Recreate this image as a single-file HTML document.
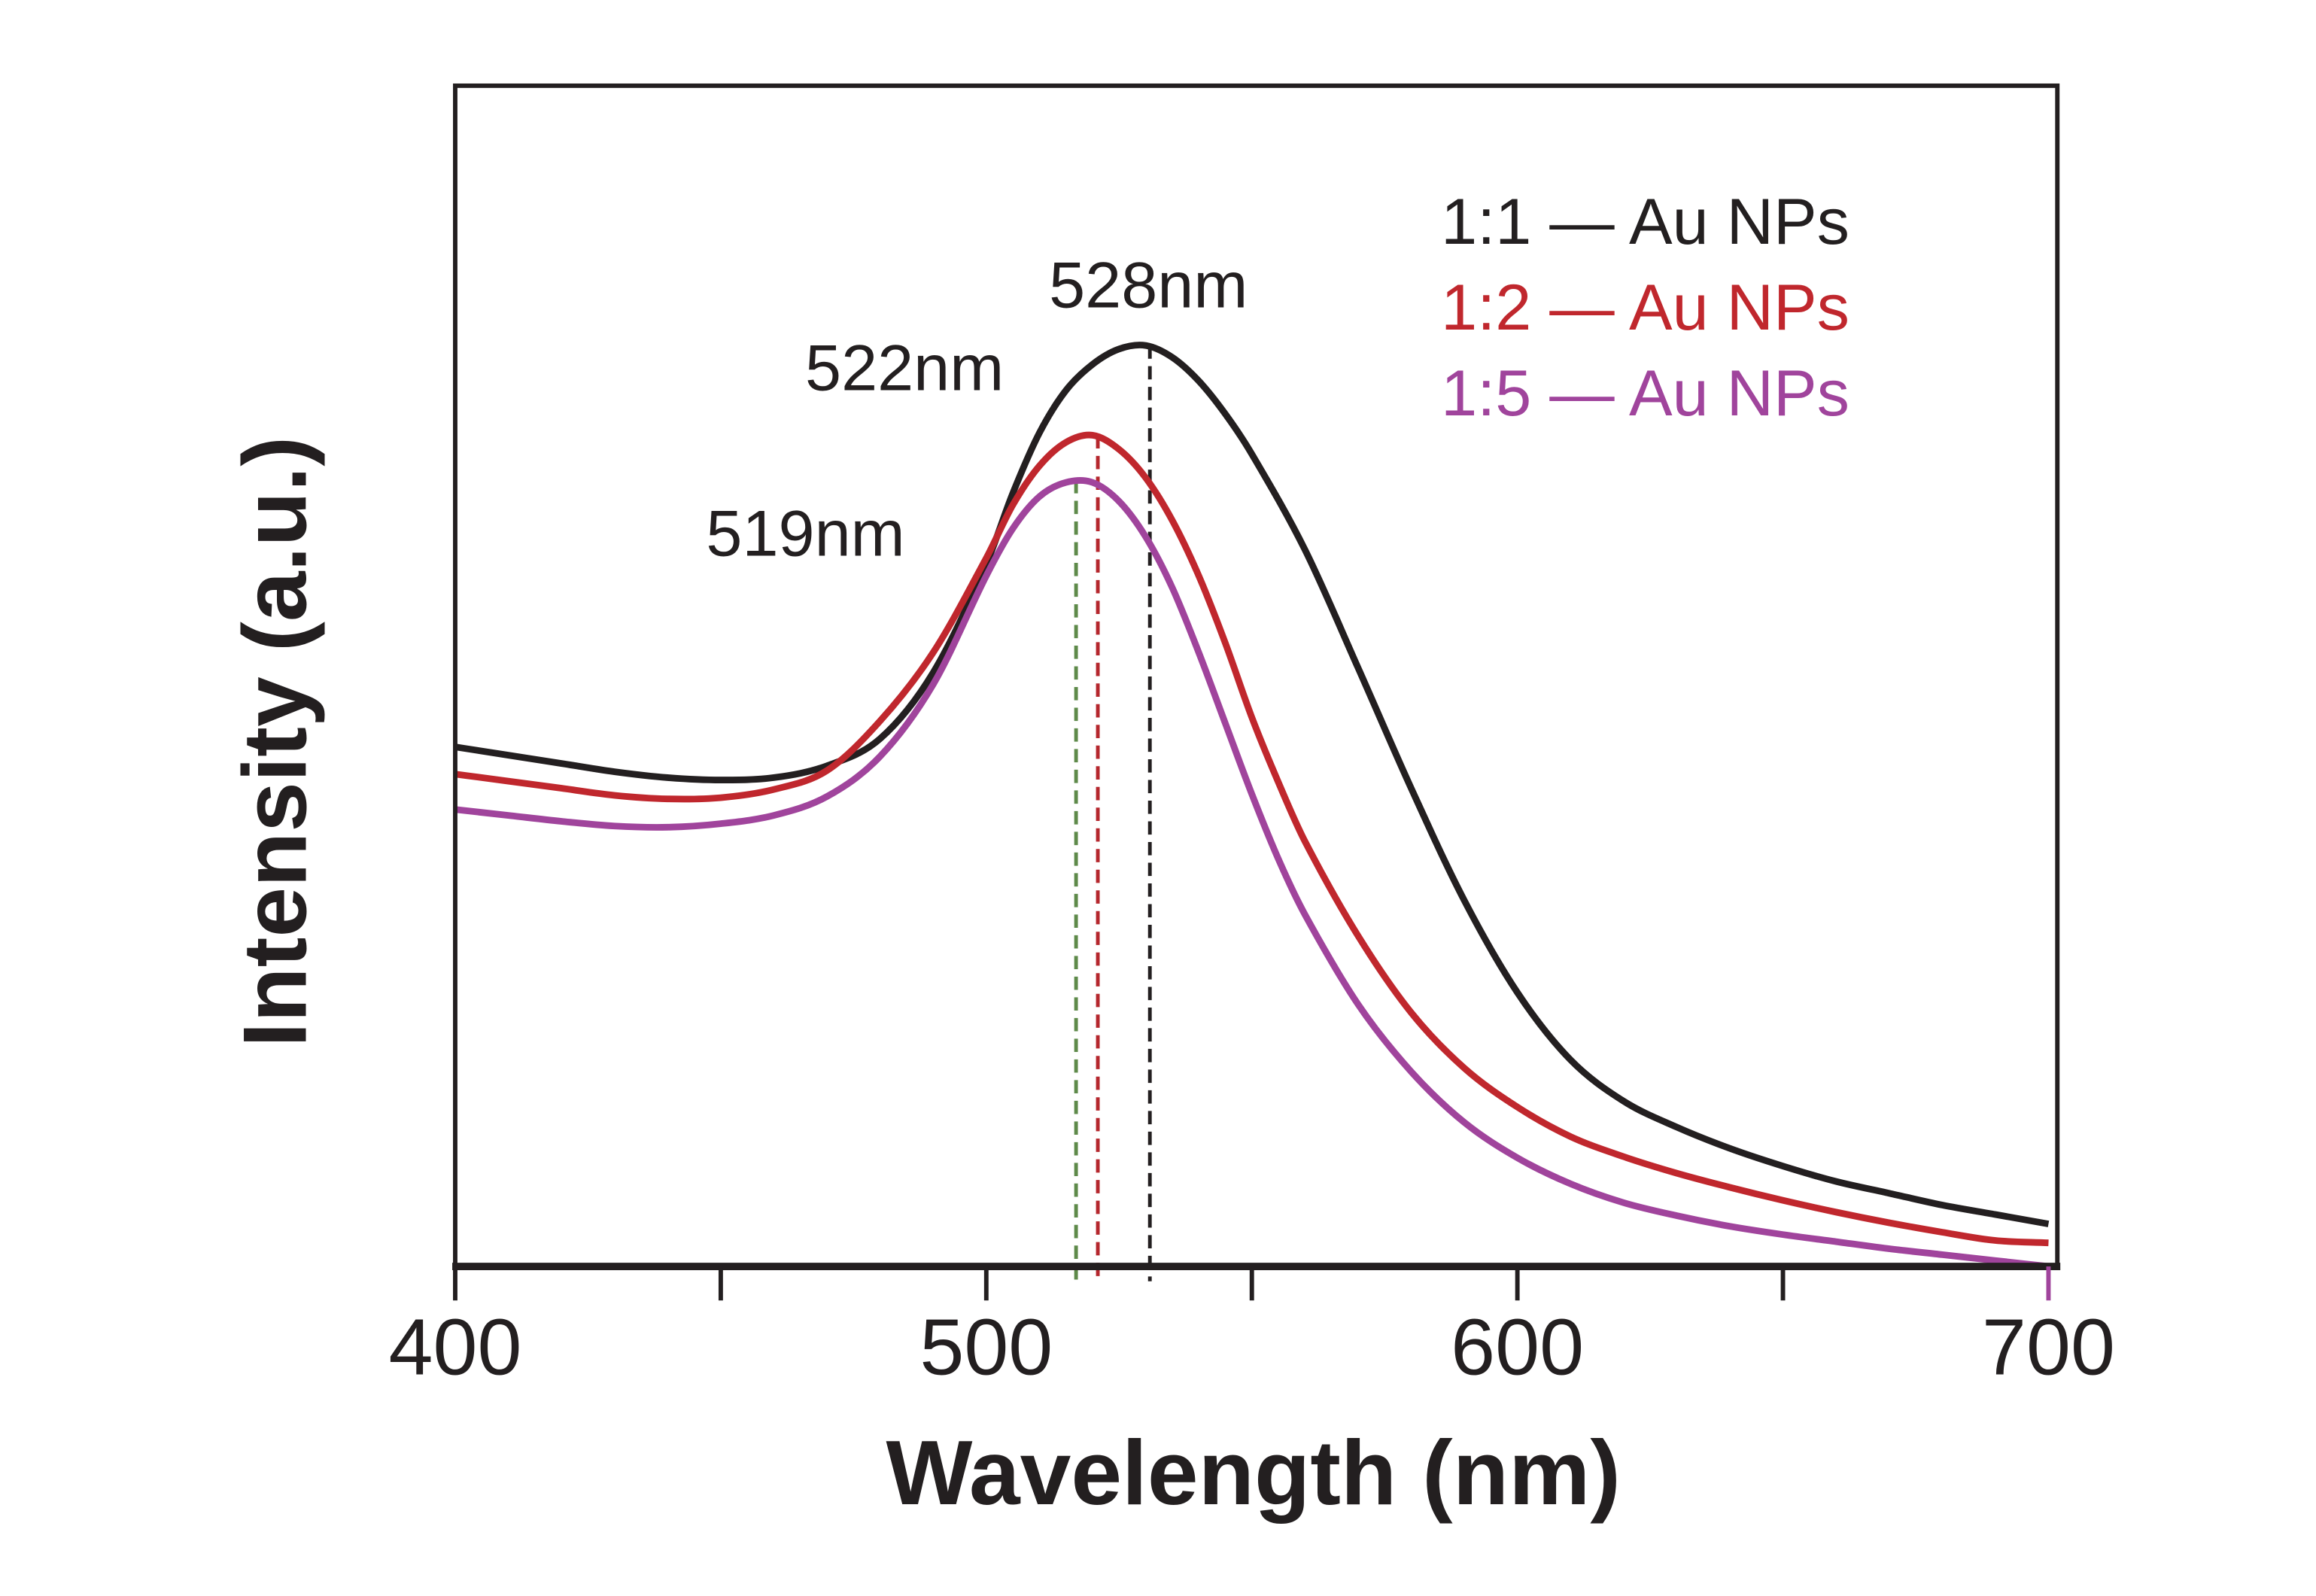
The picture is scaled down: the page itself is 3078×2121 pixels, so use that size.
<!DOCTYPE html>
<html><head><meta charset="utf-8"><style>
html,body{margin:0;padding:0;background:#fff;}
svg{display:block;}
text{font-family:"Liberation Sans",sans-serif;}
</style></head><body>
<svg id="chart" width="3078" height="2121" viewBox="0 0 1567 1080" preserveAspectRatio="none" xmlns="http://www.w3.org/2000/svg">
<rect width="1567" height="1080" fill="#fff"/>
<g id="marks"></g>
<rect x="308" y="58" width="1084" height="799" fill="none" stroke="#231f20" stroke-width="3"/>
<line x1="306" y1="857" x2="1394" y2="857" stroke="#231f20" stroke-width="5"/>
<g id="ticks"></g>
<text x="848" y="1018" text-anchor="middle" font-size="62" font-weight="bold" fill="#231f20">Wavelength (nm)</text>
<text transform="translate(207,502) rotate(-90)" text-anchor="middle" font-size="61" font-weight="bold" fill="#231f20">Intensity (a.u.)</text>
<text x="777" y="208" text-anchor="middle" font-size="44" fill="#231f20">528nm</text>
<text x="612" y="264" text-anchor="middle" font-size="44" fill="#231f20">522nm</text>
<text x="545" y="376" text-anchor="middle" font-size="44" fill="#231f20">519nm</text>
<text x="975" y="165" font-size="44" fill="#231f20">1:1 — Au NPs</text>
<text x="975" y="223" font-size="44" fill="#c0272d">1:2 — Au NPs</text>
<text x="975" y="281" font-size="44" fill="#a0449c">1:5 — Au NPs</text>
</svg>
<script>
const tickValues=[400,450,500,550,600,650,700];
const tickLabels=["400","","500","","600","","700"];
const blackW=[400,410,420,430,440,450,460,470,480,490,500,505,510,515,520,525,530,535,540,545,550,560,570,580,590,600,610,620,630,640,650,660,670,680,690,700];
const blackV=[0.44,0.433,0.426,0.419,0.414,0.412,0.414,0.424,0.447,0.503,0.595,0.655,0.706,0.742,0.764,0.777,0.78,0.77,0.75,0.722,0.688,0.607,0.507,0.405,0.31,0.232,0.175,0.14,0.118,0.10,0.085,0.072,0.062,0.052,0.044,0.036];
const redW=[400,410,420,430,440,450,460,470,480,490,500,505,510,515,520,525,530,535,540,545,550,555,560,570,580,590,600,610,620,630,640,650,660,670,680,690,700];
const redV=[0.417,0.411,0.405,0.399,0.396,0.397,0.404,0.42,0.462,0.52,0.60,0.645,0.678,0.698,0.704,0.692,0.668,0.632,0.585,0.528,0.465,0.41,0.36,0.28,0.215,0.168,0.135,0.11,0.093,0.079,0.067,0.056,0.046,0.037,0.029,0.022,0.02];
const purpleW=[400,410,420,430,440,450,460,470,480,490,500,505,510,515,520,525,530,535,540,545,550,555,560,570,580,590,600,610,620,630,640,650,660,670,680,690,700];
const purpleV=[0.387,0.382,0.377,0.373,0.372,0.375,0.382,0.398,0.432,0.493,0.585,0.625,0.652,0.664,0.664,0.648,0.618,0.575,0.52,0.46,0.40,0.345,0.298,0.222,0.165,0.122,0.092,0.07,0.054,0.043,0.034,0.027,0.021,0.015,0.01,0.005,0.0];
const peakW=[528,522,519];
const peakV=[0.78,0.704,0.666];
const peakColors=["#231f20","#b5272d","#5e8a4a"];
const peakXs=[530.8,521,516.9];

const X0=308,X1=1386,Y0=857,Y1=58;
function x(w){return X0+(w-400)/(700-400)*(X1-X0);}
function y(v){return Y0-v*(Y0-Y1);}
const NS="http://www.w3.org/2000/svg";
const marks=document.getElementById('marks');
const ticks=document.getElementById('ticks');

function smoothPath(ws,vs){
  const p=ws.map((w,i)=>[x(w),y(vs[i])]);
  let d="M"+p[0][0]+","+p[0][1];
  for(let i=0;i<p.length-1;i++){
    const p0=p[i-1]||p[i],p1=p[i],p2=p[i+1],p3=p[i+2]||p2;
    const h=p2[0]-p1[0];
    const s1=(p2[1]-p0[1])/(p2[0]-p0[0]||1), s2=(p3[1]-p1[1])/(p3[0]-p1[0]||1);
    d+=" C"+(p1[0]+h/3)+","+(p1[1]+s1*h/3)+" "+(p2[0]-h/3)+","+(p2[1]-s2*h/3)+" "+p2[0]+","+p2[1];
  }
  return d;
}

tickValues.forEach((t,i)=>{
  const l=document.createElementNS(NS,'line');
  
  
  l.setAttribute('x1',x(t));l.setAttribute('x2',x(t));
  l.setAttribute('y1',857);l.setAttribute('y2',880);
  l.setAttribute('stroke',t===700?'#a0449c':'#231f20');l.setAttribute('stroke-width',3);
  ticks.appendChild(l);
  if(tickLabels[i]){
    const tx=document.createElementNS(NS,'text');
    
    
    tx.setAttribute('x',x(t));tx.setAttribute('y',930);
    tx.setAttribute('text-anchor','middle');tx.setAttribute('font-size','54');
    tx.setAttribute('fill','#231f20');
    tx.textContent=tickLabels[i];
    ticks.appendChild(tx);
  }
});

peakXs.forEach((w,i)=>{
  const l=document.createElementNS(NS,'line');
  
  
  l.setAttribute('x1',x(w));l.setAttribute('x2',x(w));
  l.setAttribute('y1',y(peakV[i]));l.setAttribute('y2',867);
  l.setAttribute('stroke',peakColors[i]);l.setAttribute('stroke-width',2.5);
  l.setAttribute('stroke-dasharray','9,5');
  marks.appendChild(l);
});

[[blackW,blackV,'#231f20','series-1-1'],[redW,redV,'#c0272d','series-1-2'],[purpleW,purpleV,'#a0449c','series-1-5']].forEach(s=>{
  const p=document.createElementNS(NS,'path');
  
  
  p.setAttribute('d',smoothPath(s[0],s[1]));
  p.setAttribute('fill','none');p.setAttribute('stroke',s[2]);
  p.setAttribute('stroke-width',4.5);p.setAttribute('stroke-linecap','butt');
  marks.appendChild(p);
});
</script>
</body></html>
